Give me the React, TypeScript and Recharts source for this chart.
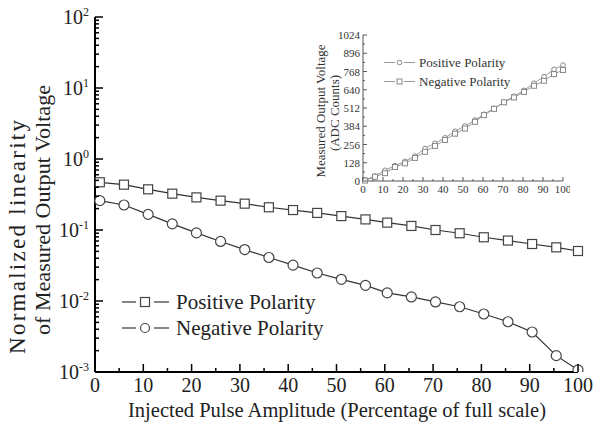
import React from 'react';
import { LineChart, Line, XAxis, YAxis, Legend } from 'recharts';

const SERIF = '"Liberation Serif", "Times New Roman", serif';

// Injected pulse amplitude (% of full scale)
const injectedPercent = [1, 6, 11, 16, 21, 26, 31, 36, 41, 46, 51, 56, 60.5, 65.5, 70.5, 75.5, 80.5, 85.5, 90.5, 95.5, 100];
// Normalized linearity (main plot, log scale)
const positiveNonlinearity = [0.47, 0.435, 0.374, 0.325, 0.288, 0.259, 0.235, 0.209, 0.191, 0.174, 0.157, 0.141, 0.127, 0.114, 0.1, 0.09, 0.079, 0.071, 0.0635, 0.057, 0.0506];
const negativeNonlinearity = [0.259, 0.225, 0.166, 0.122, 0.091, 0.069, 0.053, 0.041, 0.032, 0.0248, 0.0202, 0.0166, 0.013, 0.0114, 0.0097, 0.0083, 0.00656, 0.0051, 0.00366, 0.0017, 0.00107];
// Measured output voltage (inset, ADC counts)
const positiveAdcCounts = [8, 35, 75, 108, 138, 175, 228, 265, 303, 349, 386, 428, 468, 510, 553, 595, 636, 686, 732, 783, 813];
const negativeAdcCounts = [3, 30, 55, 98, 124, 162, 205, 246, 288, 332, 368, 415, 462, 506, 552, 586, 625, 668, 703, 750, 778];

const seriesNames = ['Positive Polarity', 'Negative Polarity'];

const mainXTicks = [0, 5, 10, 15, 20, 25, 30, 35, 40, 45, 50, 55, 60, 65, 70, 75, 80, 85, 90, 95, 100];
const mainYMajorTicks = [0.001, 0.01, 0.1, 1, 10, 100];
const insetXTicks = [0, 5, 10, 15, 20, 25, 30, 35, 40, 45, 50, 55, 60, 65, 70, 75, 80, 85, 90, 95, 100];
const insetYTicks = [0, 64, 128, 192, 256, 320, 384, 448, 512, 576, 640, 704, 768, 832, 896, 960, 1024];

const mainYTicks: number[] = [];
mainYMajorTicks.forEach((m, i) => {
  mainYTicks.push(m);
  if (i < mainYMajorTicks.length - 1) {
    for (let k = 2; k <= 9; k++) mainYTicks.push(Number((m * k).toPrecision(6)));
  }
});

const mainData = injectedPercent.map((x, i) => ({ x, pos: positiveNonlinearity[i], neg: negativeNonlinearity[i] }));
const insetData = injectedPercent.map((x, i) => ({ x, pos: positiveAdcCounts[i], neg: negativeAdcCounts[i] }));

const isPow10 = (v: number) => Math.abs(Math.log10(v) - Math.round(Math.log10(v))) < 1e-6;

// ---------- main ticks ----------
const MainLeftTick = (props: any) => {
  const { x, y, payload } = props;
  const v = payload.value;
  const major = isPow10(v);
  const exp = Math.round(Math.log10(v));
  return (
    <g>
      <line x1={x} x2={x + (major ? 8 : 4)} y1={y} y2={y} stroke="#000" strokeWidth={1.5} />
      {major && (
        <text x={x - 6} y={y + 7} textAnchor="end" fontFamily={SERIF} fontSize={20} fill="#222">
          10<tspan dy={-8} fontSize={12}>{exp}</tspan>
        </text>
      )}
    </g>
  );
};
const MainRightTick = (props: any) => {
  const { x, y, payload } = props;
  const major = isPow10(payload.value);
  return <line x1={x} x2={x - (major ? 8 : 4)} y1={y} y2={y} stroke="#000" strokeWidth={1.5} />;
};
const MainBottomTick = (props: any) => {
  const { x, y, payload } = props;
  const major = payload.value % 10 === 0;
  return (
    <g>
      <line x1={x} x2={x} y1={y} y2={y - (major ? 8 : 4)} stroke="#000" strokeWidth={1.5} />
      {major && (
        <text x={x} y={y + 20} textAnchor="middle" fontFamily={SERIF} fontSize={20} fill="#222">
          {payload.value}
        </text>
      )}
    </g>
  );
};
const MainTopTick = (props: any) => {
  const { x, y, payload } = props;
  const major = payload.value % 10 === 0;
  return <line x1={x} x2={x} y1={y} y2={y + (major ? 8 : 4)} stroke="#000" strokeWidth={1.5} />;
};

// ---------- inset ticks ----------
const INSET_AXIS = '#555';
const InsetLeftTick = (props: any) => {
  const { x, y, payload } = props;
  const major = payload.value % 128 === 0;
  return (
    <g>
      <line x1={x} x2={x + (major ? 4 : 2)} y1={y} y2={y} stroke={INSET_AXIS} strokeWidth={1} />
      {major && (
        <text x={x - 3} y={y + 4} textAnchor="end" fontFamily={SERIF} fontSize={11} fill="#333">
          {payload.value}
        </text>
      )}
    </g>
  );
};
const InsetRightTick = (props: any) => {
  const { x, y, payload } = props;
  const major = payload.value % 128 === 0;
  return <line x1={x} x2={x - (major ? 4 : 2)} y1={y} y2={y} stroke={INSET_AXIS} strokeWidth={1} />;
};
const InsetBottomTick = (props: any) => {
  const { x, y, payload } = props;
  const major = payload.value % 10 === 0;
  return (
    <g>
      <line x1={x} x2={x} y1={y} y2={y - (major ? 4 : 2)} stroke={INSET_AXIS} strokeWidth={1} />
      {major && (
        <text x={x} y={y + 12} textAnchor="middle" fontFamily={SERIF} fontSize={11} fill="#333">
          {payload.value}
        </text>
      )}
    </g>
  );
};
const InsetTopTick = (props: any) => {
  const { x, y, payload } = props;
  const major = payload.value % 10 === 0;
  return <line x1={x} x2={x} y1={y} y2={y + (major ? 4 : 2)} stroke={INSET_AXIS} strokeWidth={1} />;
};

// ---------- dots ----------
const squareDot = (size: number, stroke: string, sw: number) => (props: any) => {
  const { cx, cy, index } = props;
  if (cx == null || cy == null) return <g key={`s${index}`} />;
  return <rect key={`s${index}`} x={cx - size / 2} y={cy - size / 2} width={size} height={size} fill="#fff" stroke={stroke} strokeWidth={sw} />;
};
const circleDot = (r: number, stroke: string, sw: number) => (props: any) => {
  const { cx, cy, index } = props;
  if (cx == null || cy == null) return <g key={`c${index}`} />;
  return <circle key={`c${index}`} cx={cx} cy={cy} r={r} fill="#fff" stroke={stroke} strokeWidth={sw} />;
};

// ---------- legends ----------
const MainLegend = () => (
  <div style={{ fontFamily: SERIF, fontSize: 21, color: '#222' }}>
    {seriesNames.map((name, i) => (
      <div key={name} style={{ display: 'flex', alignItems: 'center', height: 26 }}>
        <svg width={50} height={26}>
          <line x1={1} x2={15} y1={13} y2={13} stroke="#333" strokeWidth={1.2} />
          <line x1={33} x2={48} y1={13} y2={13} stroke="#333" strokeWidth={1.2} />
          {i === 0 ? (
            <rect x={19.5} y={8.5} width={9} height={9} fill="#fff" stroke="#444" strokeWidth={1.2} />
          ) : (
            <circle cx={24} cy={13} r={4.5} fill="#fff" stroke="#444" strokeWidth={1.2} />
          )}
        </svg>
        <span style={{ marginLeft: 5, lineHeight: '26px', whiteSpace: 'nowrap' }}>{name}</span>
      </div>
    ))}
  </div>
);

const InsetLegend = () => (
  <div style={{ fontFamily: SERIF, fontSize: 13, color: '#333' }}>
    {seriesNames.map((name, i) => (
      <div key={name} style={{ display: 'flex', alignItems: 'center', height: 19 }}>
        <svg width={33} height={19}>
          <line x1={1} x2={12} y1={9.5} y2={9.5} stroke="#999" strokeWidth={1} />
          <line x1={21} x2={32} y1={9.5} y2={9.5} stroke="#999" strokeWidth={1} />
          {i === 0 ? (
            <circle cx={16.5} cy={9.5} r={2.3} fill="#fff" stroke="#888" strokeWidth={1} />
          ) : (
            <rect x={14} y={7} width={5} height={5} fill="#fff" stroke="#888" strokeWidth={1} />
          )}
        </svg>
        <span style={{ marginLeft: 3, lineHeight: '19px', whiteSpace: 'nowrap' }}>{name}</span>
      </div>
    ))}
  </div>
);

const MainYTitle = () => (
  <g fontFamily={SERIF} fill="#222">
    <text transform="translate(25,237) rotate(-90)" textAnchor="middle" fontSize={23} textLength={234} lengthAdjust="spacing">
      Normalized linearity
    </text>
    <text transform="translate(50,210) rotate(-90)" textAnchor="middle" fontSize={20} textLength={250} lengthAdjust="spacingAndGlyphs">
      of Measured Output Voltage
    </text>
  </g>
);

const InsetYTitle = () => (
  <g fontFamily={SERIF} fontSize={13} fill="#333">
    <text transform="translate(35,91) rotate(-90)" textAnchor="middle">Measured Output Voltage</text>
    <text transform="translate(49,93) rotate(-90)" textAnchor="middle">(ADC Counts)</text>
  </g>
);

export default function App() {
  return (
    <div style={{ position: 'absolute', left: 0, top: 0, width: 600, height: 433, background: '#fff' }}>
      <LineChart width={600} height={433} data={mainData} margin={{ top: 17, right: 22, bottom: 0, left: 0 }}>
        <XAxis
          xAxisId="bottom"
          type="number"
          dataKey="x"
          domain={[0, 100]}
          ticks={mainXTicks}
          interval={0}
          height={61}
          tickSize={0}
          tickMargin={0}
          tickLine={false}
          tick={MainBottomTick}
          axisLine={{ stroke: '#000', strokeWidth: 2 }}
          label={{
            content: () => (
              <text x={337} y={417} textAnchor="middle" fontFamily={SERIF} fontSize={20} fill="#222" textLength={418} lengthAdjust="spacingAndGlyphs">
                Injected Pulse Amplitude (Percentage of full scale)
              </text>
            ),
          }}
        />
        <XAxis
          xAxisId="top"
          orientation="top"
          type="number"
          dataKey="x"
          domain={[0, 100]}
          ticks={mainXTicks}
          interval={0}
          height={0}
          tickSize={0}
          tickMargin={0}
          tickLine={false}
          tick={MainTopTick}
          axisLine={{ stroke: '#000', strokeWidth: 2 }}
        />
        <YAxis
          yAxisId="left"
          type="number"
          scale="log"
          domain={[0.001, 100]}
          allowDataOverflow
          ticks={mainYTicks}
          interval={0}
          width={95}
          tickSize={0}
          tickMargin={0}
          tickLine={false}
          tick={MainLeftTick}
          axisLine={{ stroke: '#000', strokeWidth: 2 }}
          label={{ content: () => <MainYTitle /> }}
        />
        <YAxis
          yAxisId="right"
          orientation="right"
          type="number"
          scale="log"
          domain={[0.001, 100]}
          allowDataOverflow
          ticks={mainYTicks}
          interval={0}
          width={0}
          tickSize={0}
          tickMargin={0}
          tickLine={false}
          tick={MainRightTick}
          axisLine={{ stroke: '#000', strokeWidth: 2 }}
        />
        <Legend
          layout="vertical"
          align="center"
          verticalAlign="middle"
          wrapperStyle={{ left: 121, top: 289, width: 240 }}
          content={() => <MainLegend />}
        />
        <Line
          xAxisId="bottom"
          yAxisId="left"
          dataKey="pos"
          name={seriesNames[0]}
          stroke="#333"
          strokeWidth={1.2}
          dot={squareDot(9, '#444', 1.2)}
          isAnimationActive={false}
        />
        <Line
          xAxisId="bottom"
          yAxisId="left"
          dataKey="neg"
          name={seriesNames[1]}
          stroke="#333"
          strokeWidth={1.2}
          dot={circleDot(5, '#444', 1.2)}
          isAnimationActive={false}
        />
      </LineChart>

      <div style={{ position: 'absolute', left: 290, top: 20 }}>
        <LineChart width={280} height={180} data={insetData} margin={{ top: 15, right: 7, bottom: 0, left: 0 }}>
          <XAxis
            xAxisId="bottom"
            type="number"
            dataKey="x"
            domain={[0, 100]}
            ticks={insetXTicks}
            interval={0}
            height={19}
            tickSize={0}
            tickMargin={0}
            tickLine={false}
            tick={InsetBottomTick}
            axisLine={{ stroke: INSET_AXIS, strokeWidth: 1 }}
          />
          <XAxis
            xAxisId="top"
            orientation="top"
            type="number"
            dataKey="x"
            domain={[0, 100]}
            ticks={insetXTicks}
            interval={0}
            height={0}
            tickSize={0}
            tickMargin={0}
            tickLine={false}
            tick={InsetTopTick}
            axisLine={{ stroke: INSET_AXIS, strokeWidth: 1 }}
          />
          <YAxis
            yAxisId="left"
            type="number"
            domain={[0, 1024]}
            ticks={insetYTicks}
            interval={0}
            width={73}
            tickSize={0}
            tickMargin={0}
            tickLine={false}
            tick={InsetLeftTick}
            axisLine={{ stroke: INSET_AXIS, strokeWidth: 1 }}
            label={{ content: () => <InsetYTitle /> }}
          />
          <YAxis
            yAxisId="right"
            orientation="right"
            type="number"
            domain={[0, 1024]}
            ticks={insetYTicks}
            interval={0}
            width={0}
            tickSize={0}
            tickMargin={0}
            tickLine={false}
            tick={InsetRightTick}
            axisLine={{ stroke: INSET_AXIS, strokeWidth: 1 }}
          />
          <Legend
            layout="vertical"
            align="center"
            verticalAlign="middle"
            wrapperStyle={{ left: 93, top: 33, width: 150 }}
            content={() => <InsetLegend />}
          />
          <Line
            xAxisId="bottom"
            yAxisId="left"
            dataKey="pos"
            name={seriesNames[0]}
            stroke="#999"
            strokeWidth={1}
            dot={circleDot(2.3, '#888', 1)}
            isAnimationActive={false}
          />
          <Line
            xAxisId="bottom"
            yAxisId="left"
            dataKey="neg"
            name={seriesNames[1]}
            stroke="#999"
            strokeWidth={1}
            dot={squareDot(5, '#888', 1)}
            isAnimationActive={false}
          />
        </LineChart>
      </div>
    </div>
  );
}
